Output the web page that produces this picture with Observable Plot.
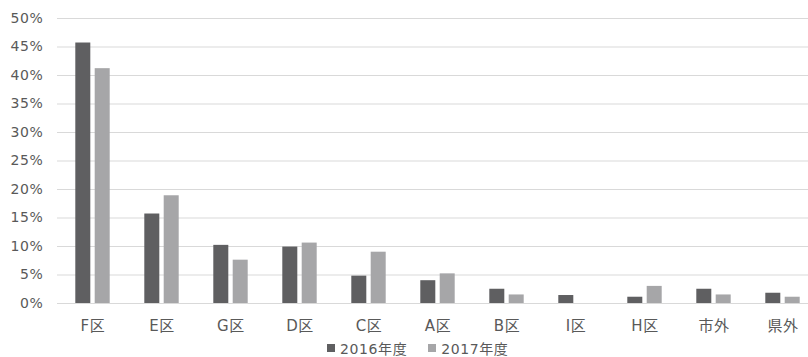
<!DOCTYPE html>
<html>
<head>
<meta charset="utf-8">
<script src="https://cdn.jsdelivr.net/npm/d3@7"></script>
<script src="https://cdn.jsdelivr.net/npm/@observablehq/plot@0.6"></script>
<style>
  body { margin: 0; background: #fff; font-family: "DejaVu Sans", "Noto Sans CJK JP", sans-serif; }
  #legend { display: flex; align-items: center; margin-left: 327px; margin-top: 2px; height: 19px; font-size: 14px; letter-spacing: 0.6px; color: #595959; }
  #legend .item { display: flex; align-items: center; margin-right: 21px; }
  #legend .sw { width: 8px; height: 8px; margin-right: 5px; }
</style>
</head>
<body>
<div id="chart"></div>
<div id="legend"></div>
<script>
// Share of respondents by area, fiscal 2016 vs fiscal 2017 (percent)
const areas = ["F区", "E区", "G区", "D区", "C区", "A区", "B区", "I区", "H区", "市外", "県外"];
const years = ["2016年度", "2017年度"];
const values2016 = [45.7, 15.7, 10.2, 9.9, 4.8, 4.0, 2.5, 1.4, 1.1, 2.5, 1.8];
const values2017 = [41.2, 18.9, 7.6, 10.6, 9.0, 5.2, 1.5, 0, 3.0, 1.5, 1.1];
const yTicks = [0, 5, 10, 15, 20, 25, 30, 35, 40, 45, 50];
const colors = ["#5f5f61", "#a6a6a8"];

const rows2016 = areas.map((a, i) => ({area: a, year: years[0], value: values2016[i]}));
const rows2017 = areas.map((a, i) => ({area: a, year: years[1], value: values2017[i]}));

const chart = Plot.plot({
  width: 808,
  height: 336,
  marginTop: 18,
  marginBottom: 33,
  marginLeft: 57,
  marginRight: 0,
  style: {fontFamily: '"DejaVu Sans", "Noto Sans CJK JP", sans-serif', fontSize: "14px", color: "#595959", letterSpacing: "0.6px"},
  // the last category band runs slightly past the right edge of the frame
  x: {domain: areas, range: [57.6, 817.7], paddingInner: 0.78, paddingOuter: 0.39, label: null},
  y: {domain: [0, 50], ticks: yTicks, label: null},
  marks: [
    Plot.ruleY(yTicks, {y: d => d, stroke: "#d9d9d9", strokeWidth: 1}),
    Plot.barY(rows2016, {x: "area", y: "value", fill: colors[0], dx: -9.7}),
    Plot.barY(rows2017, {x: "area", y: "value", fill: colors[1], dx: 9.7}),
    Plot.axisY({ticks: yTicks, tickSize: 0, tickPadding: 14, tickFormat: d => d + "%", fill: "#595959"}),
    Plot.axisX({tickSize: 0, tickPadding: 17, fontSize: 15, fill: "#595959"})
  ]
});
document.getElementById("chart").appendChild(chart);

const legend = document.getElementById("legend");
years.forEach((y, i) => {
  const item = document.createElement("div");
  item.className = "item";
  const sw = document.createElement("span");
  sw.className = "sw";
  sw.style.background = colors[i];
  const label = document.createElement("span");
  label.textContent = y;
  item.appendChild(sw);
  item.appendChild(label);
  legend.appendChild(item);
});
</script>
</body>
</html>
